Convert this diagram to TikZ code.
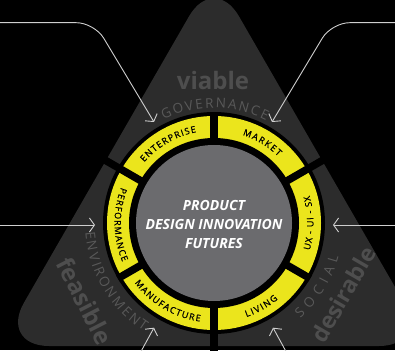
\documentclass[tikz,border=0pt]{standalone}
\usepackage{fontspec}
\setmainfont{Open Sans}
\newfontface\ringface[FakeBold=0.8]{Open Sans}
\usetikzlibrary{decorations.text,arrows.meta}
\definecolor{tri}{HTML}{2C2C2C}
\definecolor{ring}{HTML}{EBE51C}
\definecolor{core}{HTML}{6B6B6E}
\definecolor{bigword}{HTML}{4E4E4E}
\definecolor{arcword}{HTML}{595959}
\definecolor{arrowc}{HTML}{CFCFCF}
\newcommand\ringfnt{\ringface\fontsize{9}{9}\selectfont}
\newcommand\arcfnt{\fontsize{13.5}{13.5}\selectfont}
\begin{document}
\begin{tikzpicture}[x=1pt,y=1pt,
  bigword/.style={font=\fontsize{24}{24}\selectfont\bfseries, text=bigword, inner sep=0pt},
  ringlabel/.style={decorate, decoration={text along path, text color=black, text align={fit to path}, text={|\ringfnt|#1}}},
  arclabel/.style={decorate, decoration={text along path, text color=arcword, text align={fit to path}, text={|\arcfnt|#1}}},
  arr/.style={draw=arrowc, line width=0.9pt, -{Straight Barb[length=5pt,width=14pt]}, rounded corners=18pt},
  gapline/.style={line width=7.5pt, black}
]
\useasboundingbox (0,0) rectangle (395,350);
\clip (0,0) rectangle (395,350);
\fill[black] (0,0) rectangle (395,350);
% triangle
\fill[tri, rounded corners=50pt] (214,4) -- (429,4) -- (214,377) -- (-1,4) -- cycle;
\coordinate (ctr) at (214,127);
\begin{scope}[shift={(ctr)}]
  \fill[black] (0,0) circle[radius=111pt];
  \fill[ring] (0,0) circle[radius=107pt];
  \fill[black] (0,0) circle[radius=85pt];
  \foreach \a in {30,150,270} \draw[gapline] (\a:80pt) -- (\a:260pt);
  \foreach \a in {90,210,330} \draw[gapline] (\a:80pt) -- (\a:111pt);
  \fill[core] (0,0) circle[radius=78pt];
  \node[font=\fontsize{14}{19}\selectfont\bfseries\itshape, text=white, align=center] (core) at (0,-1) {PRODUCT\\DESIGN INNOVATION\\FUTURES};
  % ring labels
  \path[ringlabel=ENTERPRISE] (139:92.5pt) arc[start angle=139, end angle=101, radius=92.5pt];
  \path[ringlabel=MARKET] (72:92.5pt) arc[start angle=72, end angle=46, radius=92.5pt];
  \path[ringlabel={UX - UI - SX}] (-16:99.5pt) arc[start angle=-16, end angle=16, radius=99.5pt];
  \path[ringlabel=LIVING] (-71:99.5pt) arc[start angle=-71, end angle=-50, radius=99.5pt];
  \path[ringlabel=MANUFACTURE] (217:99.5pt) arc[start angle=217, end angle=262, radius=99.5pt];
  \path[ringlabel=PERFORMANCE] (159:99.5pt) arc[start angle=159, end angle=203, radius=99.5pt];
  % outer arc labels
  \path[arclabel=GOVERNANCE] (116:115pt) arc[start angle=116, end angle=63, radius=115pt];
  \path[arclabel=ENVIRONMENT] (184:129pt) arc[start angle=184, end angle=237, radius=129pt];
  \path[arclabel=SOCIAL] (-48:129pt) arc[start angle=-48, end angle=-15, radius=129pt];
\end{scope}
% big words
\node[bigword] (viable) at (213,269) {viable};
\node[bigword, rotate=-63] (feasible) at (85,49) {feasible};
\node[bigword, font=\fontsize{23}{23}\selectfont\bfseries, rotate=60] (desirable) at (343,55.5) {desirable};
% arrows
\coordinate (a1s) at (-2,327.3); \coordinate (a1c) at (94.4,327.3); \coordinate (a1t) at (154,228);
\coordinate (a2s) at (397,327.3); \coordinate (a2c) at (331.6,327.3); \coordinate (a2t) at (272,228);
\coordinate (a3s) at (-2,125); \coordinate (a3t) at (95,125);
\coordinate (a4s) at (397,125); \coordinate (a4t) at (333,125);
\coordinate (a5s) at (139.6,-4); \coordinate (a5t) at (154,22.3);
\coordinate (a6s) at (287.4,-4); \coordinate (a6t) at (273,22.3);
\draw[arr] (a1s) -- (a1c) -- (a1t);
\draw[arr] (a2s) -- (a2c) -- (a2t);
\draw[arr] (a3s) -- (a3t);
\draw[arr] (a4s) -- (a4t);
\draw[arr] (a5s) -- (a5t);
\draw[arr] (a6s) -- (a6t);
\end{tikzpicture}
\end{document}
